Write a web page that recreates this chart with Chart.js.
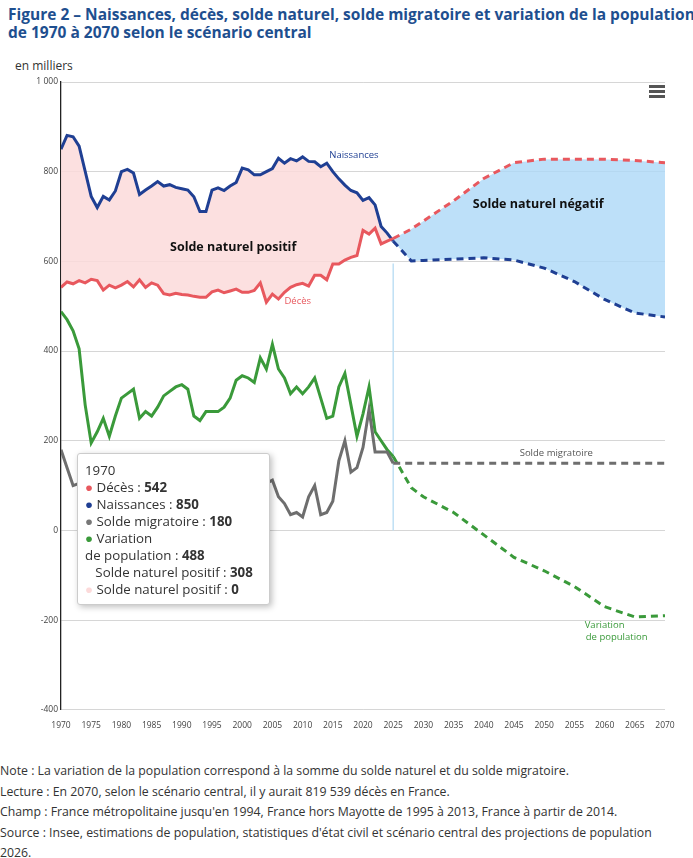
<!DOCTYPE html>
<html><head><meta charset="utf-8">
<script src="https://cdn.jsdelivr.net/npm/chart.js@4"></script>
<style>
body{margin:0;width:693px;height:858px;font-family:"Open Sans",sans-serif;background:#fff;position:relative;overflow:hidden}
#title{position:absolute;left:8px;top:5px;font-size:15.5px;font-weight:bold;color:#1e4f8f;line-height:18px;white-space:nowrap}
#unit{position:absolute;left:15px;top:57px;font-size:12px;color:#333}
#wrap{position:absolute;left:0;top:72px;width:680px;height:662px}
#notes{position:absolute;left:0;top:761px;font-size:12.3px;color:#333;line-height:20.5px;white-space:nowrap}
#tip{position:absolute;left:77px;top:453px;width:193px;height:152px;background:#fff;border:1px solid #ccc;border-radius:3px;box-shadow:2px 2px 6px rgba(0,0,0,.25);font-size:13.3px;color:#333;line-height:17px;padding:8px 0 0 7px;box-sizing:border-box}
#tip b{font-weight:bold}
#menu{position:absolute;left:649px;top:85px;width:16px}
#menu div{height:2.5px;background:#555;margin-bottom:2.5px}
</style></head><body>
<div id="title">Figure 2 – Naissances, décès, solde naturel, solde migratoire et variation de la population<br>de 1970 à 2070 selon le scénario central</div>
<div id="unit">en milliers</div>
<div id="wrap"><canvas id="c"></canvas></div>
<div id="menu"><div></div><div></div><div></div></div>
<div id="tip">1970<br>
<span style="color:#e8585e">●</span> Décès : <b>542</b><br>
<span style="color:#1f3f93">●</span> Naissances : <b>850</b><br>
<span style="color:#777">●</span> Solde migratoire : <b>180</b><br>
<span style="color:#3a9a3a">●</span> Variation<br>de population : <b>488</b><br>
&nbsp;&nbsp;&nbsp;Solde naturel positif : <b>308</b><br>
<span style="color:#fcdada">●</span> Solde naturel positif : <b>0</b></div>
<div id="notes">Note : La variation de la population correspond à la somme du solde naturel et du solde migratoire.<br>
Lecture : En 2070, selon le scénario central, il y aurait 819 539 décès en France.<br>
Champ : France métropolitaine jusqu'en 1994, France hors Mayotte de 1995 à 2013, France à partir de 2014.<br>
Source : Insee, estimations de population, statistiques d'état civil et scénario central des projections de population<br><span style="line-height:14px">2026.</span></div>
<script>
const histYears=[];for(let y=1970;y<=2025;y++)histYears.push(y);
const projYears=[2028,2030,2035,2040,2045,2050,2055,2060,2065,2070];
const births=[850,881,878,857,801,745,720,745,737,757,800,805,797,749,759,768,778,768,771,765,762,759,744,711,711,759,764,758,768,776,808,804,793,793,800,807,830,819,829,824,833,823,822,811,819,800,784,770,758,753,736,742,726,678,663,645];
const birthsProj=[601,602,605,608,603,585,555,515,485,476];
const deaths=[542,554,550,557,552,560,557,536,547,541,547,555,543,559,542,552,547,528,525,529,526,525,522,520,520,532,536,530,534,538,531,531,535,552,509,527,516,531,542,548,551,545,569,569,559,594,594,603,609,613,669,661,674,639,645,651];
const deathsProj=[672,690,735,785,820,828,828,828,825,820];
const migr=[180,140,100,105,70,30,60,80,60,70,45,55,60,50,45,55,60,50,60,65,75,85,80,70,45,40,45,50,60,70,60,80,95,100,105,112,75,60,35,40,30,75,100,35,40,65,155,200,130,140,185,270,175,175,175,150];
const migrProj=[150,150,150,150,150,150,150,150,150,150];
const variation=[488,470,445,405,280,195,220,250,210,255,295,305,315,250,265,255,275,300,310,320,325,315,255,245,265,265,265,275,295,335,345,340,330,385,360,415,360,340,305,320,305,320,340,295,250,255,320,350,280,210,260,320,220,200,180,165];
const variationProj=[95,75,40,-10,-60,-90,-125,-170,-193,-190];
const xTicks=[1970,1975,1980,1985,1990,1995,2000,2005,2010,2015,2020,2025,2030,2035,2040,2045,2050,2055,2060,2065,2070];

const pts=(ys,vs,ps)=>ys.map((y,i)=>({x:y,y:vs[i]})).concat(projYears.map((y,i)=>({x:y,y:ps[i]})));
const dash=ctx=>ctx.p0.parsed.x>=2025?[7,5]:undefined;
const ds=(label,data,color,extra)=>Object.assign({label,data,borderColor:color,borderWidth:3,pointRadius:0,tension:0,segment:{borderDash:dash},fill:false},extra||{});

const labels={id:'labels',afterDatasetsDraw(ch){
  const c=ch.ctx,x=ch.scales.x,y=ch.scales.y;
  const T=(t,xx,yy,col,font,al)=>{c.save();c.fillStyle=col;c.font=font;c.textAlign=al||'center';c.textBaseline='middle';c.fillText(t,x.getPixelForValue(xx),y.getPixelForValue(yy));c.restore();};
  T('Naissances',2018.5,836,'#1f3f93','9.5px "Open Sans"');
  T('Décès',2009.2,511,'#e8585e','9.5px "Open Sans"');
  T('Solde naturel positif',1998.5,630,'#111','bold 12.5px "Open Sans"');
  T('Solde naturel négatif',2049,727,'#111','bold 12.5px "Open Sans"');
  T('Solde migratoire',2052,173,'#555','9.5px "Open Sans"');
  T('Variation',2060,-212,'#3a9a3a','9.5px "Open Sans"');
  T('de population',2062,-238,'#3a9a3a','9.5px "Open Sans"');
},beforeDatasetsDraw(ch){
  const c=ch.ctx,x=ch.scales.x,y=ch.scales.y;c.save();c.strokeStyle='#bfe0f5';c.lineWidth=1.5;c.beginPath();
  const px=x.getPixelForValue(2025);c.moveTo(px,y.getPixelForValue(595));c.lineTo(px,y.getPixelForValue(0));c.stroke();c.restore();
}};

new Chart(document.getElementById('c'),{type:'line',
data:{datasets:[
  ds('Décès',pts(histYears,deaths,deathsProj),'#e8585e'),
  ds('Naissances',pts(histYears,births,birthsProj),'#1f3f93',{fill:{target:0,above:'rgba(252,218,218,0.85)',below:'rgba(173,216,247,0.8)'}}),
  ds('Solde migratoire',pts(histYears,migr,migrProj),'#6e6e6e'),
  ds('Variation de population',pts(histYears,variation,variationProj),'#3a9a3a')
]},
options:{responsive:true,maintainAspectRatio:false,animation:false,
 layout:{padding:{top:10,right:15}},
 plugins:{legend:{display:false},tooltip:{enabled:false}},
 scales:{
  x:{type:'linear',min:1970,max:2070,afterBuildTicks:a=>{a.ticks=xTicks.map(v=>({value:v}));},
     ticks:{color:'#444',font:{size:8.5,family:'Open Sans'},maxRotation:0,autoSkip:false,callback:v=>String(v)},
     grid:{display:false},border:{display:false}},
  y:{min:-400,max:1000,afterFit:a=>{a.width=61;},
     ticks:{stepSize:200,color:'#444',font:{size:8.5,family:'Open Sans'},callback:v=>v===1000?'1 000':String(v)},
     grid:{color:'#d6d6d6',drawTicks:false},border:{display:true,color:'#222',width:1.3}}
 }},
plugins:[labels]});
</script></body></html>
